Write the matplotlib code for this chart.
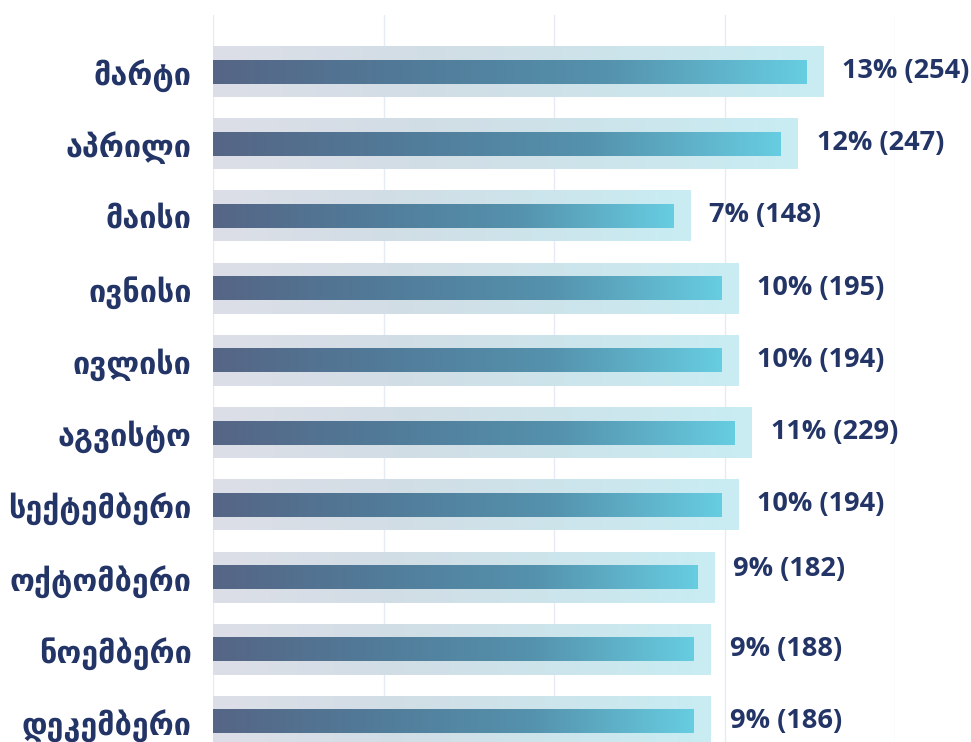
import numpy as np
import matplotlib
matplotlib.use("Agg")
import matplotlib.pyplot as plt
from matplotlib.colors import LinearSegmentedColormap

# datos (de arriba hacia abajo)
meses = ["მარტი", "აპრილი", "მაისი", "ივნისი", "ივლისი", "აგვისტო",
         "სექტემბერი", "ოქტომბერი", "ნოემბერი", "დეკემბერი"]
cantidad = [254, 247, 148, 195, 194, 229, 194, 182, 188, 186]
porcentaje = [13, 12, 7, 10, 10, 11, 10, 9, 9, 9]
# largo de la barra (en unidades de la grilla)
largo = [3.48, 3.33, 2.70, 2.98, 2.98, 3.06, 2.98, 2.84, 2.82, 2.82]

azul = "#233466"
cmap_barra = LinearSegmentedColormap.from_list(
    "barra", ["#566585", "#517b99", "#5592ad", "#67cde1"])
cmap_fondo = LinearSegmentedColormap.from_list(
    "fondo", ["#dddfe8", "#d2dde5", "#cde4eb", "#c8edf3"])

W, H = 971, 742
fig = plt.figure(figsize=(W / 100, H / 100), dpi=100)
y_top, y_bot = 15, 779
ax = fig.add_axes([213 / W, (H - y_bot) / H, (895 - 213) / W, (y_bot - y_top) / H])

n = len(meses)
ys = np.arange(n)
grad = np.linspace(0, 1, 256).reshape(1, -1)

px_x = 170.5   # pixeles por unidad en x
px_y = 72.2    # pixeles por categoría
pad_x = 17 / px_x
h_barra = 23 / px_y
h_fondo = 50 / px_y

for i in range(n):
    L = largo[i]
    ax.imshow(grad, cmap=cmap_fondo, aspect="auto", interpolation="bicubic",
              extent=(0, L + pad_x, ys[i] + h_fondo / 2, ys[i] - h_fondo / 2), zorder=1)
    ax.imshow(grad, cmap=cmap_barra, aspect="auto", interpolation="bicubic",
              extent=(0, L, ys[i] + h_barra / 2, ys[i] - h_barra / 2), zorder=2)
    dy = -1 / px_y
    if i == 7:
        dy = -9 / px_y
    ax.text(L + pad_x + 19 / px_x, ys[i] + dy, f"{porcentaje[i]}% ({cantidad[i]})",
            va="center", ha="left", fontsize=19.5, fontweight="bold", color=azul,
            family=["Open Sans", "DejaVu Sans"], clip_on=False, zorder=3)

ax.set_xlim(0, 4)
ax.set_ylim(n - 1 + (y_bot - 722) / px_y, -(72 - y_top) / px_y)
ax.set_xticks([0, 1, 2, 3, 4])
ax.grid(axis="x", color="#e6ebf3", linewidth=1, zorder=0)
ax.set_axisbelow(True)
ax.tick_params(axis="x", length=0, labelbottom=False)
ax.set_yticks(ys)
ax.set_yticklabels(meses, fontsize=22, fontweight="bold", color=azul,
                   family=["Noto Sans", "DejaVu Sans"])
ax.tick_params(axis="y", length=0, pad=15.5)
for s in ax.spines.values():
    s.set_visible(False)

fig.savefig("out.png", dpi=100)
